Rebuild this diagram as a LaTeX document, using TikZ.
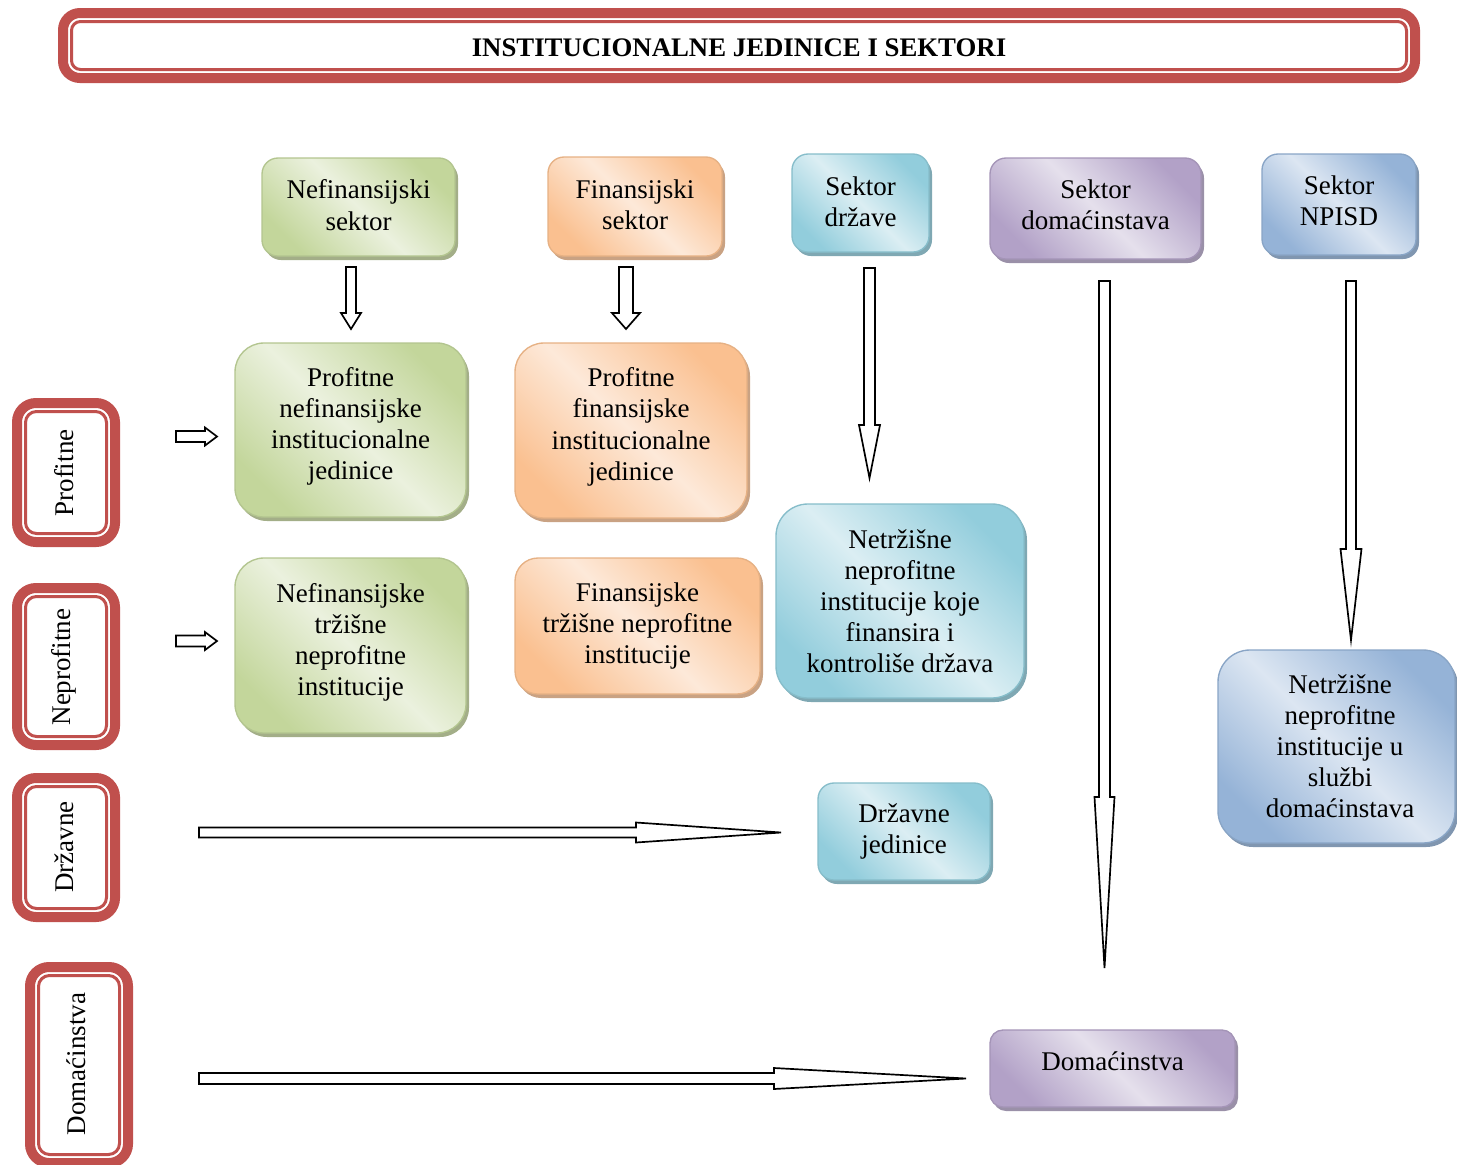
\documentclass[tikz,border=0pt]{standalone}
\usepackage{fontspec}
\setmainfont{Liberation Serif}
\usetikzlibrary{shadows}
\newcommand\upx{0.4444pt}
\newlength\upxl\setlength\upxl{0.4444pt}
% extra depth on the last line: raises the text block by half of it
\newcommand\dpt[1]{\rule[-#1\upxl]{0pt}{0pt}}
\definecolor{rd}{HTML}{C0504D}
\definecolor{gD}{HTML}{C3D69B}\definecolor{gL}{HTML}{EBF1DE}\definecolor{gS}{HTML}{A3AE88}
\definecolor{oD}{HTML}{FAC090}\definecolor{oL}{HTML}{FDE9D9}\definecolor{oS}{HTML}{C9A283}
\definecolor{cD}{HTML}{92CDDC}\definecolor{cL}{HTML}{DBEEF3}\definecolor{cS}{HTML}{7FA8B3}
\definecolor{pD}{HTML}{B2A1C7}\definecolor{pL}{HTML}{E5E0EC}\definecolor{pS}{HTML}{9A90A8}
\definecolor{sD}{HTML}{95B3D7}\definecolor{sL}{HTML}{DCE6F2}\definecolor{sS}{HTML}{8096B0}
\newcommand\redframe[5]{%
  \fill[white,rounded corners=#5*\upx] (#1,#2) rectangle (#3,#4);
  \draw[rd,line width=10*\upx,rounded corners=(#5-5)*\upx] (#1+5,#2+5) rectangle (#3-5,#4-5);
  \draw[rd,line width=3*\upx,rounded corners=(#5-13)*\upx] (#1+13.5,#2+13.5) rectangle (#3-13.5,#4-13.5);}
% vertical block arrow: x, ytop, yhead, ytip, shaft half, head half
\newcommand\blkV[6]{%
  \draw[blockarrow] (#1-#5,#2) -- (#1+#5,#2) -- (#1+#5,#3) -- (#1+#6,#3) -- (#1,#4)
    -- (#1-#6,#3) -- (#1-#5,#3) -- cycle;}
% horizontal block arrow: y, xleft, xhead, xtip, shaft half, head half
\newcommand\blkH[6]{%
  \draw[blockarrow] (#2,#1-#5) -- (#3,#1-#5) -- (#3,#1-#6) -- (#4,#1) -- (#3,#1+#6)
    -- (#3,#1+#5) -- (#2,#1+#5) -- cycle;}
\tikzset{
  box/.style={align=center,font=\fontsize{12}{13.8}\selectfont,inner sep=0pt,line width=0.6pt},
  gbox/.style={box,draw=gD!92!black,top color=gD,bottom color=gD,middle color=gL,shading angle=-45,
    drop shadow={shadow xshift=3*\upx,shadow yshift=-4*\upx,fill=gS,opacity=1}},
  obox/.style={box,draw=oD!92!black,top color=oD,bottom color=oD,middle color=oL,shading angle=-45,
    drop shadow={shadow xshift=3*\upx,shadow yshift=-4*\upx,fill=oS,opacity=1}},
  cbox/.style={box,draw=cD!92!black,top color=cD,bottom color=cD,middle color=cL,shading angle=-45,
    drop shadow={shadow xshift=3*\upx,shadow yshift=-4*\upx,fill=cS,opacity=1}},
  pbox/.style={box,draw=pD!92!black,top color=pD,bottom color=pD,middle color=pL,shading angle=-45,
    drop shadow={shadow xshift=3*\upx,shadow yshift=-4*\upx,fill=pS,opacity=1}},
  sbox/.style={box,draw=sD!92!black,top color=sD,bottom color=sD,middle color=sL,shading angle=-45,
    drop shadow={shadow xshift=3*\upx,shadow yshift=-4*\upx,fill=sS,opacity=1}},
  blockarrow/.style={draw=black,fill=white,line width=0.75pt,line join=miter},
  lbltxt/.style={font=\fontsize{12}{13.8}\selectfont,inner sep=0pt,rotate=90},
}
\begin{document}
\begin{tikzpicture}[x=0.4444pt,y=-0.4444pt]
\useasboundingbox (0,0) rectangle (1457,1165);
% title
\redframe{58}{8}{1420}{83}{22}
\node[font=\fontsize{11.9}{14}\selectfont\bfseries,inner sep=0pt] (title) at (739,47.5) {INSTITUCIONALNE JEDINICE I SEKTORI};
% left labels
\redframe{12}{398}{120}{547}{24}
\node[lbltxt] (lprof) at (64,473) {Profitne};
\redframe{12}{583}{120}{750}{24}
\node[lbltxt] (lnep) at (64,667) {Neprofitne};
\redframe{12}{773}{120}{922}{24}
\node[lbltxt] (ldrz) at (64,847) {Državne};
\redframe{25}{962}{133}{1168}{24}
\node[lbltxt] (ldom) at (76,1064) {Domaćinstva};
% top sectors
\node[gbox,minimum width=193*\upx,minimum height=98*\upx,rounded corners=16*\upx] (nefs) at (358.5,207) {Nefinansijski\\sektor\dpt{4}};
\node[obox,minimum width=174*\upx,minimum height=99*\upx,rounded corners=16*\upx] (fins) at (635,206.5) {Finansijski\\sektor\dpt{3}};
\node[cbox,minimum width=137*\upx,minimum height=98*\upx,rounded corners=16*\upx] (drzs) at (860.5,203) {Sektor\\države\dpt{3}};
\node[pbox,minimum width=211*\upx,minimum height=101*\upx,rounded corners=16*\upx] (doms) at (1095.5,208.5) {Sektor\\domaćinstava\dpt{7}};
\node[sbox,minimum width=154*\upx,minimum height=101*\upx,rounded corners=16*\upx] (npisds) at (1339,204.5) {Sektor\\NPISD\dpt{7}};
% units
\node[gbox,minimum width=231*\upx,minimum height=174*\upx,rounded corners=29*\upx] (pnij) at (350.5,430) {Profitne\\nefinansijske\\institucionalne\\jedinice\dpt{13}};
\node[obox,minimum width=232*\upx,minimum height=175*\upx,rounded corners=29*\upx] (pfij) at (631,430.5) {Profitne\\finansijske\\institucionalne\\jedinice\dpt{13}};
\node[gbox,minimum width=231*\upx,minimum height=175*\upx,rounded corners=29*\upx] (ntni) at (350.5,645.5) {Nefinansijske\\tržišne\\neprofitne\\institucije\dpt{12}};
\node[obox,minimum width=245*\upx,minimum height=136*\upx,rounded corners=23*\upx] (ftni) at (637.5,626) {Finansijske\\tržišne neprofitne\\institucije};
\node[cbox,minimum width=248*\upx,minimum height=194*\upx,rounded corners=32*\upx] (nnik) at (900,601) {Netržišne\\neprofitne\\institucije koje\\finansira i\\kontroliše država};
\node[cbox,minimum width=172*\upx,minimum height=97*\upx,rounded corners=16*\upx] (drzj) at (904,831.5) {Državne\\jedinice};
\node[pbox,minimum width=245*\upx,minimum height=77*\upx,rounded corners=13*\upx] (domj) at (1112.5,1068.5) {Domaćinstva\dpt{14}};
\node[sbox,minimum width=237*\upx,minimum height=193*\upx,rounded corners=32*\upx] (nnis) at (1336.5,746.5) {\hspace*{7\upxl}Netržišne\\\hspace*{7\upxl}neprofitne\\\hspace*{7\upxl}institucije u\\\hspace*{7\upxl}službi\\\hspace*{7\upxl}domaćinstava};
% block arrows
\blkV{351}{267}{313}{329}{5}{10}
\blkV{626}{267}{313}{329}{7}{14}
\blkV{869.5}{268}{425}{478}{5.5}{10.5}
\blkV{1104.5}{281}{797}{968}{5.5}{10}
\blkV{1351}{281}{549}{640}{5}{10.5}
\blkH{436.5}{176}{205}{217}{5.5}{9}
\blkH{641}{176}{205}{217}{5.5}{9}
\blkH{832.5}{199}{636}{781}{5}{10}
\blkH{1078.5}{199}{774}{966}{5.5}{10.5}
\end{tikzpicture}
\end{document}
